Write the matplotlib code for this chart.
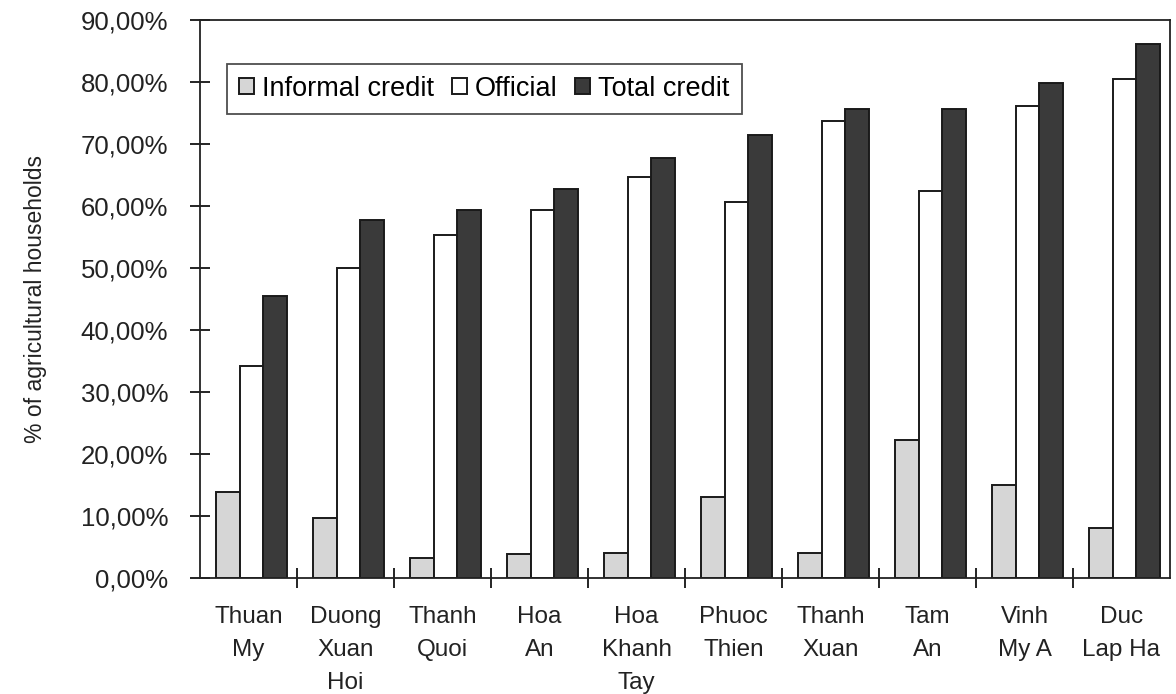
import numpy as np
import matplotlib
matplotlib.use('Agg')
import matplotlib.pyplot as plt
from matplotlib.ticker import FixedLocator

plt.rcParams['font.family'] = ['Liberation Sans', 'DejaVu Sans']

# data (% of agricultural households)
communes = ['Thuan\nMy', 'Duong\nXuan\nHoi', 'Thanh\nQuoi', 'Hoa\nAn', 'Hoa\nKhanh\nTay',
            'Phuoc\nThien', 'Thanh\nXuan', 'Tam\nAn', 'Vinh\nMy A', 'Duc\nLap Ha']
informal = [13.8, 9.6, 3.2, 3.8, 4.0, 13.0, 4.0, 22.3, 15.0, 8.0]
official = [34.2, 50.0, 55.3, 59.3, 64.6, 60.6, 73.7, 62.5, 76.2, 80.5]
total = [45.5, 57.8, 59.3, 62.8, 67.8, 71.5, 75.6, 75.6, 79.8, 86.2]
y_ticks = [0, 10, 20, 30, 40, 50, 60, 70, 80, 90]
y_tick_labels = ['%.2f%%' % v for v in y_ticks]
y_tick_labels = [s.replace('.', ',') for s in y_tick_labels]

fig = plt.figure(figsize=(11.76, 6.94), dpi=100)
ax = fig.add_axes([200/1176, 1-578/694, 970/1176, 558/694])

x = np.arange(len(communes))
w = 0.245
ax.bar(x - w + 0.03, informal, w, color='#d6d6d6', edgecolor='#1a1a1a', linewidth=1.4,
       label='Informal credit')
ax.bar(x + 0.03, official, w, color='white', edgecolor='#1a1a1a', linewidth=1.4,
       label='Official')
ax.bar(x + w + 0.03, total, w, color='#3a3a3a', edgecolor='#1a1a1a', linewidth=1.4,
       label='Total credit')

ax.set_xlim(-0.5, len(communes) - 0.5)
ax.set_ylim(0, 90)

ax.set_yticks(y_ticks)
ax.set_yticklabels(y_tick_labels, fontsize=18.5, color='#222222')
ax.tick_params(axis='y', direction='inout', length=14, width=1.2, pad=16)

ax.set_xticks(x)
ax.set_xticklabels(communes, fontsize=17.5, color='#222222', linespacing=1.65)
ax.tick_params(axis='x', which='major', length=0, pad=20)
ax.xaxis.set_minor_locator(FixedLocator(np.arange(0.5, len(communes) - 0.5, 1)))
ax.tick_params(axis='x', which='minor', direction='inout', length=14, width=1.2)

for sp in ax.spines.values():
    sp.set_linewidth(1.3)
    sp.set_color('#222222')

ax.set_ylabel('% of agricultural households', fontsize=16.5, color='#222222', labelpad=24)

leg = ax.legend(loc='upper left', bbox_to_anchor=(0.028, 0.922), ncol=3, fontsize=19.5,
                frameon=True, fancybox=False, edgecolor='#222222', handlelength=0.55,
                handleheight=0.55, handletextpad=0.3, columnspacing=0.65,
                borderpad=0.45, borderaxespad=0)
leg.get_frame().set_linewidth(1.3)

fig.savefig('out.png', dpi=100)
